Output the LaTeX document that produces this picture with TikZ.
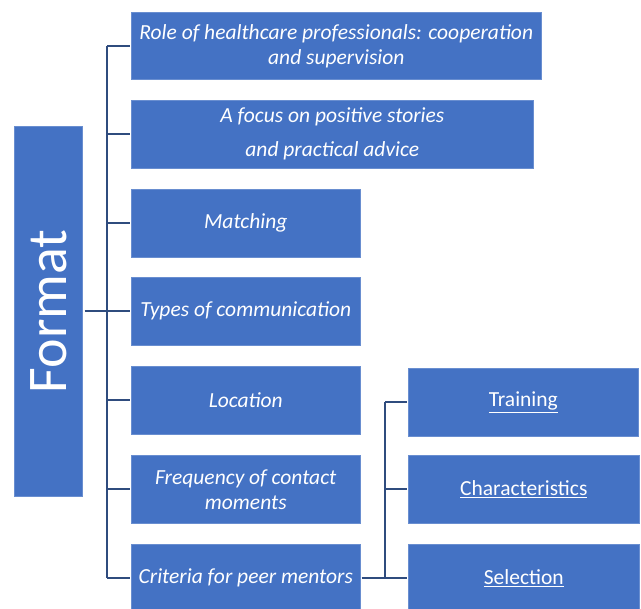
\documentclass[tikz,border=0pt]{standalone}
\usepackage{fontspec}
\setmainfont{Carlito}
\definecolor{boxblue}{HTML}{4472C4}
\definecolor{linenavy}{HTML}{2F4C7E}
\begin{document}
\begin{tikzpicture}[x=1pt,y=-1pt,
  box/.style={fill=boxblue, draw=boxblue!80!white, line width=0.6pt, text=white, align=center, inner sep=0pt},
  item/.style={box, font=\fontsize{21.5}{25}\selectfont\itshape},
  sub/.style={box, font=\fontsize{21.5}{22}\selectfont},
  conn/.style={draw=linenavy, line width=2.4pt}]
\useasboundingbox (0,0) rectangle (641,609);
\begin{scope}
\clip (0,0) rectangle (641,609);
\node[box, minimum width=68pt, minimum height=370pt, anchor=north west,
  font=\fontsize{56}{56}\selectfont] (fmt) at (14,126) {\rotatebox{90}{Format}};
\node[item, minimum width=410pt, minimum height=67pt, anchor=north west] (r1) at (131,12)
  {Role of healthcare professionals: cooperation\\and supervision};
\node[item, minimum width=402pt, minimum height=68pt, anchor=north west, font=\fontsize{21.5}{34}\selectfont\itshape] (r2) at (131,100)
  {A focus on positive stories\\and practical advice};
\node[item, minimum width=229pt, minimum height=68pt, anchor=north west] (r3) at (131,189) {Matching};
\node[item, minimum width=229pt, minimum height=68pt, anchor=north west] (r4) at (131,277) {Types of communication};
\node[item, minimum width=229pt, minimum height=68pt, anchor=north west] (r5) at (131,366) {Location};
\node[item, minimum width=229pt, minimum height=68pt, anchor=north west] (r6) at (131,455) {Frequency of contact\\moments};
\node[item, minimum width=229pt, minimum height=67pt, anchor=north west] (r7) at (131,544) {Criteria for peer mentors};
\node[sub, minimum width=230pt, minimum height=68pt, anchor=north west] (s1) at (408,368) {\underline{Training}};
\node[sub, minimum width=231pt, minimum height=68pt, anchor=north west] (s2) at (408,455) {\underline{Characteristics}};
\node[sub, minimum width=231pt, minimum height=67pt, anchor=north west] (s3) at (408,544) {\underline{Selection}};
\coordinate (bus) at (107,0);
\coordinate (bus2) at (385,0);
\draw[conn] (bus |- r1.west) -- (bus |- r7.west);
\foreach \n in {r1,r2,r3,r4,r5,r6,r7} \draw[conn] (bus |- \n.west) -- ([xshift=-1pt]\n.west);
\draw[conn] ([xshift=2pt]fmt.east) -- (bus |- fmt.east);
\draw[conn] (bus2 |- s1.west) -- (bus2 |- s3.west);
\foreach \n in {s1,s2,s3} \draw[conn] (bus2 |- \n.west) -- ([xshift=-1pt]\n.west);
\draw[conn] ([xshift=1pt]r7.east) -- (bus2 |- r7.east);
\end{scope}
\end{tikzpicture}
\end{document}
